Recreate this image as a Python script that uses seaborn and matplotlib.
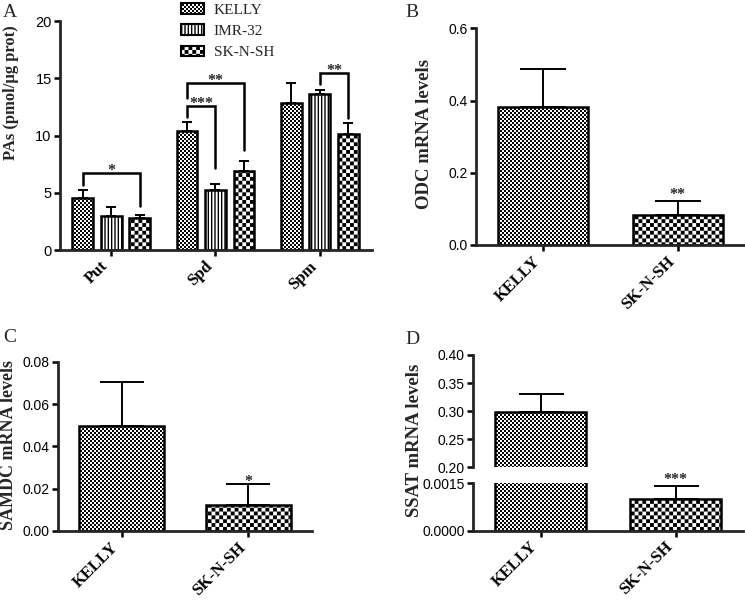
import numpy as np
import pandas as pd
import matplotlib
matplotlib.use('Agg')
import matplotlib.pyplot as plt
import matplotlib.hatch as mhatch
from matplotlib.path import Path
from matplotlib.patches import Patch
from matplotlib.ticker import FormatStrFormatter
import seaborn as sns

# ========== dados ==========
amines = ['Put', 'Spd', 'Spm']
lines3 = ['KELLY', 'IMR-32', 'SK-N-SH']
pas_kelly = [4.5, 10.4, 12.8]
pas_imr = [3.0, 5.2, 13.65]
pas_sknsh = [2.8, 6.9, 10.1]
pas_kelly_err = [0.7, 0.8, 1.8]
pas_imr_err = [0.72, 0.55, 0.3]
pas_sknsh_err = [0.25, 0.9, 1.0]

lines2 = ['KELLY', 'SK-N-SH']
odc = [0.383, 0.083]
odc_err = [0.103, 0.038]
samdc = [0.0496, 0.0124]
samdc_err = [0.0208, 0.0098]
ssat = [0.298, 0.001]
ssat_err = [0.033, 0.00041]

# significancia: (amina, linha a, linha b, topo, fim perna a, fim perna b, texto)
brackets = [
    ('Put', 'KELLY', 'SK-N-SH', 6.7, 5.7, 3.8, '*'),
    ('Spd', 'KELLY', 'IMR-32', 12.6, 11.6, 7.2, '***'),
    ('Spd', 'KELLY', 'SK-N-SH', 14.6, 13.3, 8.7, '**'),
    ('Spm', 'IMR-32', 'SK-N-SH', 15.5, 14.5, 11.5, '**'),
]
star_odc = '**'
star_samdc = '*'
star_ssat = '***'


# ========== hachura xadrez (substitui o 'o') ==========
class Checker(mhatch.HatchPatternBase):
    filled = True

    def __init__(self, hatch, density):
        self.cells = 2 * hatch.count('o')
        self.num_vertices = 5 * (self.cells ** 2 // 2)

    def set_vertices_and_codes(self, vertices, codes):
        n = self.cells
        step = 1.0 / n
        shrink = plt.rcParams['hatch.linewidth'] / 72 / 2
        ii, jj = np.meshgrid(np.arange(n), np.arange(n))
        mask = (ii + jj) % 2 == 0
        x0 = ii[mask] * step + shrink
        y0 = jj[mask] * step + shrink
        x1 = x0 + step - 2 * shrink
        y1 = y0 + step - 2 * shrink
        sq = np.stack([np.stack([x0, y0], 1), np.stack([x1, y0], 1),
                       np.stack([x1, y1], 1), np.stack([x0, y1], 1),
                       np.stack([x0, y0], 1)], 1)
        vertices[:] = sq.reshape(-1, 2)
        codes[:] = np.tile([Path.MOVETO, Path.LINETO, Path.LINETO,
                            Path.LINETO, Path.CLOSEPOLY], len(x0))


mhatch._hatch_types = [Checker if t is mhatch.SmallCircles else t
                       for t in mhatch._hatch_types]

hatches = {'KELLY': 'o' * 25, 'IMR-32': '|||||', 'SK-N-SH': 'o' * 13}

# ========== estilo ==========
sns.set_style('ticks')
plt.rcParams['font.family'] = 'sans-serif'
plt.rcParams['font.sans-serif'] = ['Liberation Sans', 'DejaVu Sans']
plt.rcParams['font.serif'] = ['Liberation Serif', 'DejaVu Serif']
plt.rcParams['hatch.linewidth'] = 1.0

W, H = 745, 600
fig = plt.figure(figsize=(W / 100, H / 100), dpi=100)


def box(left, top, right, bottom):
    return [left / W, 1 - bottom / H, (right - left) / W, (bottom - top) / H]


def style_axis(ax, tick_size=10):
    for s in ['left', 'bottom']:
        ax.spines[s].set_linewidth(2.0)
    ax.tick_params(axis='both', length=4.5, width=1.8, pad=1.5,
                   labelsize=tick_size, color='black', labelcolor='black')
    for lab in ax.get_xticklabels():
        lab.set_rotation(45)
        lab.set_ha('right')
        lab.set_fontfamily('serif')
        lab.set_fontweight('bold')
        lab.set_fontsize(12)
    ax.set_xlabel('')
    ax.set_ylabel('')


def add_errors(ax, bars, errs, capsize):
    xs = [b.get_x() + b.get_width() / 2 for b in bars]
    ys = [b.get_height() for b in bars]
    ax.errorbar(xs, ys, yerr=[np.zeros(len(errs)), errs], fmt='none',
                ecolor='black', elinewidth=1.4, capsize=capsize,
                capthick=1.4, zorder=0.9)
    return xs, [y + e for y, e in zip(ys, errs)]


def star(ax, x, y, txt, dy):
    ax.annotate(txt, xy=(x, y), xytext=(0, dy), textcoords='offset points',
                ha='center', va='baseline', fontsize=11.5, fontweight='bold',
                family='serif', annotation_clip=False)


# ========== A ==========
ax_a = fig.add_axes(box(60, 21, 372, 250))
df_a = pd.DataFrame({
    'amine': amines * 3,
    'line': np.repeat(lines3, 3),
    'pas': pas_kelly + pas_imr + pas_sknsh,
})
sns.barplot(data=df_a, x='amine', y='pas', hue='line', order=amines,
            hue_order=lines3, palette=['white'] * 3, edgecolor='black',
            linewidth=1.8, width=0.82, gap=0.27, errorbar=None,
            legend=False, ax=ax_a)
centres = {}
for cont, line, errs in zip(ax_a.containers, lines3,
                            [pas_kelly_err, pas_imr_err, pas_sknsh_err]):
    for b in cont:
        b.set_hatch(hatches[line])
    centres[line], _ = add_errors(ax_a, list(cont), errs, 3.8)

for amine, la, lb, ytop, ya, yb, txt in brackets:
    i = amines.index(amine)
    xa, xb = centres[la][i], centres[lb][i]
    ax_a.plot([xa, xa, xb, xb], [ya, ytop, ytop, yb], color='black',
              lw=1.8, solid_joinstyle='miter', clip_on=False)
    star(ax_a, (xa + xb) / 2, ytop, txt, -1.5)

ax_a.set_ylim(0, 20)
ax_a.set_yticks([0, 5, 10, 15, 20])
ax_a.set_xlim(-0.49, 2.5)
sns.despine(ax=ax_a)
style_axis(ax_a, 10.5)

leg_handles = [Patch(facecolor='white', edgecolor='black', linewidth=1.5,
                     hatch=hatches[l], label=l) for l in lines3]
fig.legend(handles=leg_handles, loc='upper left',
           bbox_to_anchor=(181 / W, 1 - 3 / H), frameon=False, borderpad=0,
           borderaxespad=0, handlelength=1.5, handleheight=0.7,
           handletextpad=0.65, labelspacing=0.5,
           prop={'family': 'serif', 'size': 11})


# ========== B, C, D ==========
def two_bars(ax, vals, errs, capsize):
    sns.barplot(x=lines2, y=vals, color='white', edgecolor='black',
                linewidth=1.8, width=0.67, errorbar=None, ax=ax)
    bars = list(ax.containers[0])
    for b, line in zip(bars, lines2):
        b.set_hatch(hatches[line])
    xs, tops = add_errors(ax, bars, errs, capsize)
    ax.set_xlim(-0.5, 1.5)
    sns.despine(ax=ax)
    return xs, tops


ax_b = fig.add_axes(box(476, 28.3, 745, 245))
xs, tops = two_bars(ax_b, odc, odc_err, 16.5)
star(ax_b, xs[1], tops[1], star_odc, 1.5)
ax_b.set_ylim(0, 0.6)
ax_b.set_yticks([0, 0.2, 0.4, 0.6])
ax_b.yaxis.set_major_formatter(FormatStrFormatter('%.1f'))
style_axis(ax_b)

ax_c = fig.add_axes(box(58.3, 361.7, 311.7, 531))
xs, tops = two_bars(ax_c, samdc, samdc_err, 15.5)
star(ax_c, xs[1], tops[1], star_samdc, -1.5)
ax_c.set_ylim(0, 0.08)
ax_c.set_yticks([0, 0.02, 0.04, 0.06, 0.08])
ax_c.yaxis.set_major_formatter(FormatStrFormatter('%.2f'))
style_axis(ax_c)

ax_d1 = fig.add_axes(box(473, 355, 743, 467.3))
ax_d2 = fig.add_axes(box(473, 483.3, 743, 530.7))
two_bars(ax_d1, ssat, ssat_err, 16.2)
xs, tops = two_bars(ax_d2, ssat, ssat_err, 16.2)
star(ax_d2, xs[1], tops[1], star_ssat, 1.5)
ax_d1.set_ylim(0.2, 0.4)
ax_d1.set_yticks([0.2, 0.25, 0.3, 0.35, 0.4])
ax_d1.yaxis.set_major_formatter(FormatStrFormatter('%.2f'))
ax_d2.set_ylim(0, 0.0015)
ax_d2.set_yticks([0, 0.0015])
ax_d2.yaxis.set_major_formatter(FormatStrFormatter('%.4f'))
style_axis(ax_d1)
style_axis(ax_d2)
ax_d1.spines['bottom'].set_visible(False)
ax_d1.tick_params(axis='x', bottom=False, labelbottom=False)

# ========== textos ==========
ylab = dict(rotation=90, ha='right', va='center', family='serif',
            fontweight='bold')
fig.text(19 / W, 1 - 93 / H, 'PAs (pmol/\u03bcg prot)', fontsize=12, **ylab)
fig.text(433 / W, 1 - 134 / H, 'ODC mRNA levels', fontsize=13.5, **ylab)
fig.text(17 / W, 1 - 445 / H, 'SAMDC mRNA levels', fontsize=13, **ylab)
fig.text(423 / W, 1 - 440 / H, 'SSAT mRNA levels', fontsize=13.5, **ylab)

letter = dict(va='top', ha='left', family='serif', fontsize=14)
fig.text(3 / W, 1 - 4 / H, 'A', **letter)
fig.text(405 / W, 1 - 4 / H, 'B', **letter)
fig.text(3 / W, 1 - 329 / H, 'C', **letter)
fig.text(405 / W, 1 - 331 / H, 'D', **letter)

fig.savefig('out.png', dpi=100)
